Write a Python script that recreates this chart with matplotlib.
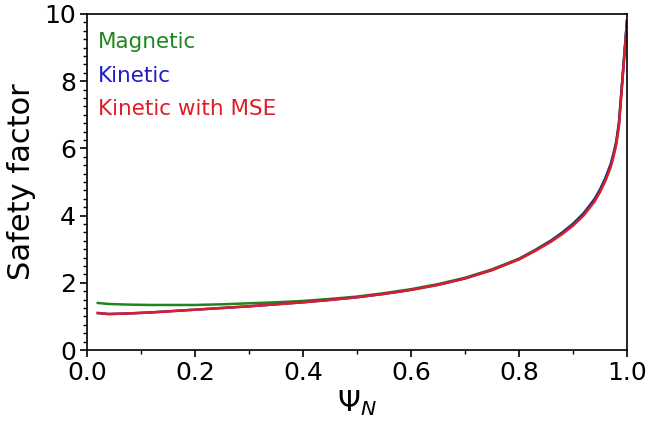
import matplotlib
matplotlib.use("Agg")
import matplotlib.pyplot as plt
from matplotlib.ticker import MultipleLocator

psi = [0.02, 0.04, 0.08, 0.12, 0.16, 0.2, 0.25, 0.3, 0.35, 0.4, 0.45, 0.5, 0.55, 0.6, 0.65, 0.7,
       0.75, 0.8, 0.83, 0.86, 0.88, 0.9, 0.92, 0.94, 0.95, 0.96, 0.97, 0.975, 0.98, 0.985, 1.0]
q_magnetic = [1.40, 1.37, 1.35, 1.34, 1.34, 1.34, 1.36, 1.39, 1.42, 1.46, 1.52, 1.59, 1.69, 1.81, 1.96, 2.15,
              2.40, 2.72, 2.98, 3.27, 3.50, 3.76, 4.08, 4.50, 4.78, 5.12, 5.55, 5.85, 6.2, 6.75, 9.8]
q_kinetic = [1.10, 1.07, 1.09, 1.12, 1.16, 1.20, 1.25, 1.30, 1.36, 1.42, 1.49, 1.57, 1.67, 1.79, 1.94, 2.13,
             2.38, 2.70, 2.96, 3.25, 3.48, 3.74, 4.06, 4.48, 4.76, 5.10, 5.52, 5.82, 6.17, 6.72, 9.8]
q_kinetic_mse = [1.10, 1.07, 1.09, 1.12, 1.16, 1.20, 1.25, 1.30, 1.36, 1.42, 1.49, 1.57, 1.67, 1.79, 1.94, 2.13,
                 2.38, 2.70, 2.95, 3.23, 3.45, 3.70, 4.01, 4.42, 4.70, 5.03, 5.45, 5.75, 6.1, 6.65, 9.8]
labels = ["Magnetic", "Kinetic", "Kinetic with MSE"]
colors = ["#1e861e", "#1e1ec8", "#dc1e28"]

fig = plt.figure(figsize=(6.49, 4.23), dpi=100)
ax = fig.add_axes([87/649, 1-350/423, 540/649, 336/423])

for ys, c, lab in zip([q_magnetic, q_kinetic, q_kinetic_mse], colors, labels):
    ax.plot(psi, ys, color=c, lw=1.8, label=lab)

ax.set_xlim(0, 1)
ax.set_ylim(0, 10)
ax.xaxis.set_major_locator(MultipleLocator(0.2))
ax.xaxis.set_minor_locator(MultipleLocator(0.1))
ax.yaxis.set_major_locator(MultipleLocator(2))
ax.yaxis.set_minor_locator(MultipleLocator(0.25))
ax.tick_params(labelsize=18, length=5, width=1.2, pad=3)
ax.tick_params(which="minor", length=3, width=1)
for s in ax.spines.values():
    s.set_linewidth(1.2)

ax.set_xlabel(r"$\Psi_N$", fontsize=21, labelpad=2)
ax.set_ylabel("Safety factor", fontsize=22, labelpad=6)

for lab, c, yf in zip(labels, colors, [0.899, 0.798, 0.699]):
    ax.text(0.02, yf, lab, color=c, fontsize=15.5, transform=ax.transAxes, va="baseline", ha="left")

fig.savefig("out.png", dpi=100)
